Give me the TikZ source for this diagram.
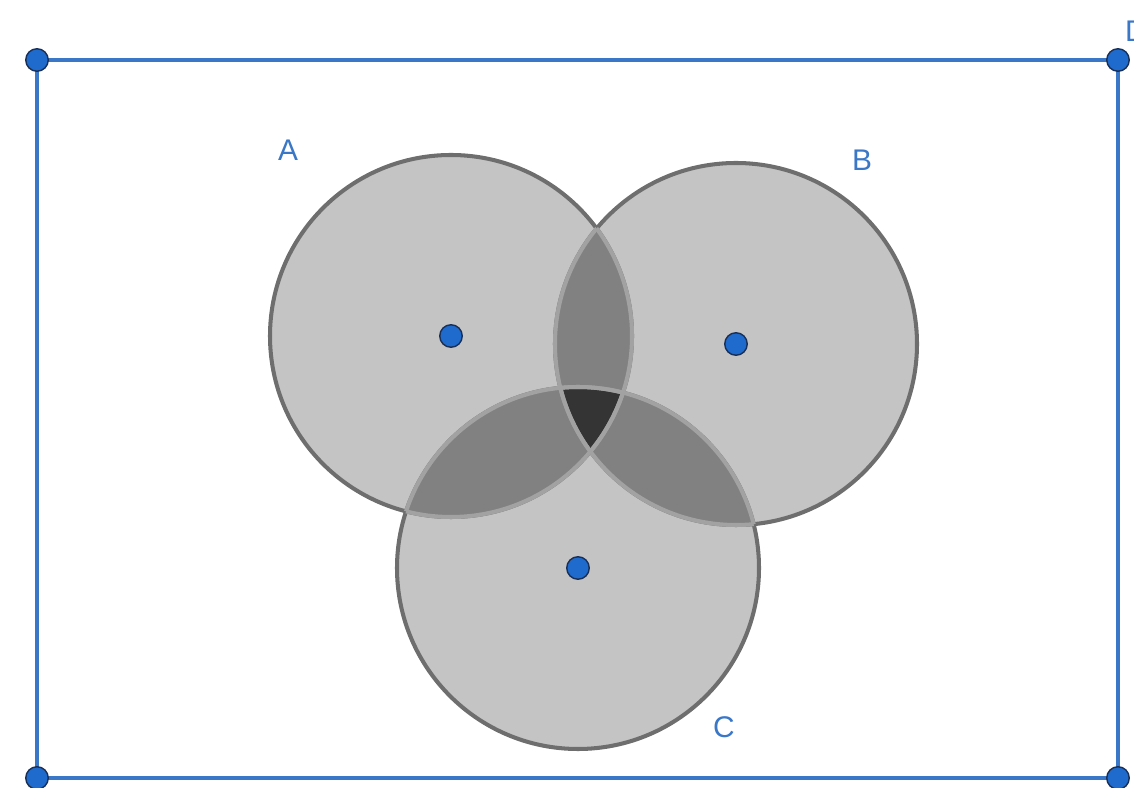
\documentclass[tikz,border=0pt]{standalone}
\usepackage{fontspec}
\setmainfont{Liberation Sans}
\definecolor{geoblue}{HTML}{3A77C6}
\definecolor{dotblue}{HTML}{1F6BCD}
\definecolor{dotrim}{HTML}{1A2F55}
\definecolor{setgray}{HTML}{C4C4C4}
\definecolor{pairgray}{HTML}{818181}
\definecolor{triplegray}{HTML}{343434}
\definecolor{rimgray}{HTML}{6E6E6E}
\definecolor{innergray}{HTML}{A2A2A2}
\tikzstyle{pt} = [circle, inner sep=0pt, minimum size=0.45cm, fill=dotblue, draw=dotrim, line width=0.8pt]
\tikzstyle{lbl} = [text=geoblue, font=\fontsize{17}{20}\selectfont]
\tikzstyle{frame} = [draw=geoblue, line width=2.6pt]
\tikzstyle{rim} = [draw=rimgray, line width=2.3pt]
\tikzstyle{inner} = [draw=innergray, line width=2.3pt]

\begin{document}
\begin{tikzpicture}
        \useasboundingbox (0,0) rectangle (22.68,15.76);
        \def\r{3.62}
        \coordinate (tl) at (0.74,14.56);
        \coordinate (tr) at (22.36,14.56);
        \coordinate (bl) at (0.74,0.2);
        \coordinate (br) at (22.36,0.2);
        \coordinate (ca) at (9.02,9.04);
        \coordinate (cb) at (14.72,8.88);
        \coordinate (cc) at (11.56,4.40);
        \draw [frame] (tl) -- (tr) -- (br) -- (bl) -- cycle;
        \fill [setgray] (ca) circle (\r) (cb) circle (\r) (cc) circle (\r);
        \draw [rim] (ca) circle (\r);
        \draw [rim] (cb) circle (\r);
        \draw [rim] (cc) circle (\r);
        \begin{scope}
            \clip (ca) circle (\r);
            \fill [pairgray] (cb) circle (\r) (cc) circle (\r);
        \end{scope}
        \begin{scope}
            \clip (cb) circle (\r);
            \fill [pairgray] (cc) circle (\r);
        \end{scope}
        \begin{scope}
            \clip (ca) circle (\r);
            \clip (cb) circle (\r);
            \fill [triplegray] (cc) circle (\r);
        \end{scope}
        \foreach \x/\y in {ca/cb, ca/cc, cb/ca, cb/cc, cc/ca, cc/cb} {
            \begin{scope}
                \clip (\y) circle (\r);
                \draw [inner] (\x) circle (\r);
            \end{scope}
        }
        \node (ptl) [pt] at (tl) {};
        \node (ptr) [pt] at (tr) {};
        \node (pbl) [pt] at (bl) {};
        \node (pbr) [pt] at (br) {};
        \node (pa) [pt] at (ca) {};
        \node (pb) [pt] at (cb) {};
        \node (pc) [pt] at (cc) {};
        \node (la) [lbl] at (5.76,12.76) {A};
        \node (lb) [lbl] at (17.24,12.56) {B};
        \node (lc) [lbl] at (14.48,1.22) {C};
        \node (ld) [lbl] at (22.72,15.14) {D};
    \end{tikzpicture}
\end{document}
